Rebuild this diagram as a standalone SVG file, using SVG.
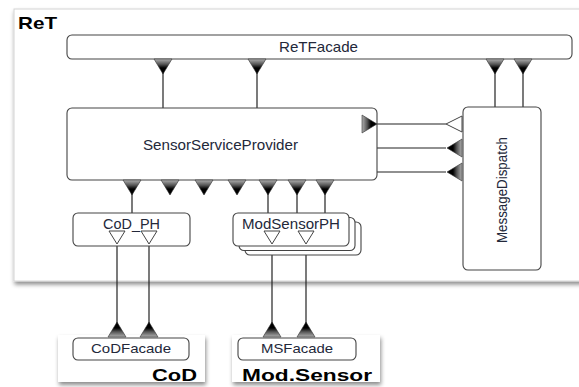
<svg xmlns="http://www.w3.org/2000/svg" xmlns:xlink="http://www.w3.org/1999/xlink" width="579" height="387" viewBox="0 0 579 387">
<style>
.box{fill:#fff;stroke:#444;stroke-width:1.1}
.lbl{font-family:"Liberation Sans",Arial,sans-serif;font-size:15px;fill:#23283a}
.small{font-size:13px}
.title{font-family:"Liberation Sans",Arial,sans-serif;font-weight:bold;font-size:17px;fill:#000}
.wire{stroke:#222;stroke-width:1.2;fill:none}
.open{fill:#fff;stroke:#444;stroke-width:1}
</style>
<defs>
<linearGradient id="gPort" x1="0" y1="0" x2="0" y2="1">
<stop offset="0" stop-color="#b0b0b0"/>
<stop offset="0.35" stop-color="#555"/>
<stop offset="0.6" stop-color="#000"/>
<stop offset="1" stop-color="#000"/>
</linearGradient>
<path id="port" d="M-9,0 L9,0 L0,15 Z" fill="url(#gPort)" stroke="#333" stroke-width="0.6"/>
<path id="openPort" d="M-8,0 L8,0 L0,13 Z" class="open"/>
<filter id="sh" x="-5%" y="-5%" width="115%" height="120%">
<feDropShadow dx="1" dy="3" stdDeviation="2" flood-color="#000" flood-opacity="0.45"/>
</filter>
</defs>
<rect width="579" height="387" fill="#fff"/>
<g id="ReT">
<rect x="14" y="9" width="570" height="272" fill="#fff" stroke="#d4d4d4" filter="url(#sh)"/>
<text x="18" y="29" class="title" textLength="39" lengthAdjust="spacingAndGlyphs">ReT</text>
</g>
<g id="CoD">
<rect x="58" y="335" width="147" height="47" fill="#fff" filter="url(#sh)"/>
<text x="152" y="381" class="title" textLength="45" lengthAdjust="spacingAndGlyphs">CoD</text>
</g>
<g id="ModSensor">
<rect x="232" y="335" width="148" height="47" fill="#fff" filter="url(#sh)"/>
<text x="242" y="381" class="title" textLength="130" lengthAdjust="spacingAndGlyphs">Mod.Sensor</text>
</g>
<g id="connectors">
<line class="wire" x1="163" y1="70" x2="163" y2="108"/>
<line class="wire" x1="257" y1="70" x2="257" y2="108"/>
<line class="wire" x1="495" y1="70" x2="495" y2="107"/>
<line class="wire" x1="523" y1="70" x2="523" y2="107"/>
<line class="wire" x1="377" y1="124" x2="446" y2="124"/>
<line class="wire" x1="377" y1="148" x2="446" y2="148"/>
<line class="wire" x1="377" y1="172" x2="446" y2="172"/>
<line class="wire" x1="132" y1="192" x2="132" y2="213"/>
<line class="wire" x1="268" y1="192" x2="268" y2="213"/>
<line class="wire" x1="297" y1="192" x2="297" y2="213"/>
<line class="wire" x1="325" y1="192" x2="325" y2="213"/>
<line class="wire" x1="117" y1="243" x2="117" y2="325"/>
<line class="wire" x1="149" y1="243" x2="149" y2="325"/>
<line class="wire" x1="272" y1="243" x2="272" y2="325"/>
<line class="wire" x1="306" y1="243" x2="306" y2="325"/>
</g>
<g id="ReTFacade">
<rect class="box" x="67" y="35" width="505" height="24" rx="5"/>
<text class="lbl" x="279" y="52" textLength="79" lengthAdjust="spacingAndGlyphs">ReTFacade</text>
<use href="#port" transform="translate(163,59)"/>
<use href="#port" transform="translate(257,59)"/>
<use href="#port" transform="translate(495,59)"/>
<use href="#port" transform="translate(523,59)"/>
</g>
<g id="SensorServiceProvider">
<rect class="box" x="67" y="108" width="310" height="72" rx="5"/>
<text class="lbl" x="143" y="150" textLength="155" lengthAdjust="spacingAndGlyphs">SensorServiceProvider</text>
<use href="#port" transform="translate(362,124) rotate(-90)"/>
<use href="#port" transform="translate(132,180)"/>
<use href="#port" transform="translate(170,180)"/>
<use href="#port" transform="translate(204,180)"/>
<use href="#port" transform="translate(237,180)"/>
<use href="#port" transform="translate(268,180)"/>
<use href="#port" transform="translate(297,180)"/>
<use href="#port" transform="translate(325,180)"/>
</g>
<g id="MessageDispatch">
<rect class="box" x="463" y="107" width="78" height="163" rx="5"/>
<text class="lbl" transform="translate(507,243) rotate(-90)" textLength="106" lengthAdjust="spacingAndGlyphs">MessageDispatch</text>
<path d="M462,116 L462,132 L446,124 Z" class="open"/>
<use href="#port" transform="translate(462,148) rotate(90)"/>
<use href="#port" transform="translate(462,172) rotate(90)"/>
</g>
<g id="CoD_PH">
<rect class="box" x="73" y="213" width="117" height="33" rx="5"/>
<text class="lbl" x="103" y="229" textLength="57" lengthAdjust="spacingAndGlyphs">CoD_PH</text>
<use href="#openPort" transform="translate(117,231)"/>
<use href="#openPort" transform="translate(149,231)"/>
</g>
<g id="ModSensorPH">
<rect class="box" x="245" y="222" width="116" height="33" rx="5"/>
<rect class="box" x="239" y="217.5" width="116" height="33" rx="5"/>
<rect class="box" x="233" y="213" width="116" height="33" rx="5"/>
<text class="lbl" x="242" y="229" textLength="98" lengthAdjust="spacingAndGlyphs">ModSensorPH</text>
<use href="#openPort" transform="translate(272,231)"/>
<use href="#openPort" transform="translate(306,231)"/>
</g>
<g id="CoDFacade">
<rect class="box" x="73" y="338" width="116" height="22" rx="5"/>
<text class="lbl small" x="91" y="353" textLength="80" lengthAdjust="spacingAndGlyphs">CoDFacade</text>
<use href="#port" transform="translate(117,337) rotate(180)"/>
<use href="#port" transform="translate(149,337) rotate(180)"/>
</g>
<g id="MSFacade">
<rect class="box" x="238" y="338" width="118" height="22" rx="5"/>
<text class="lbl small" x="261" y="353" textLength="72" lengthAdjust="spacingAndGlyphs">MSFacade</text>
<use href="#port" transform="translate(272,337) rotate(180)"/>
<use href="#port" transform="translate(306,337) rotate(180)"/>
</g>
</svg>
